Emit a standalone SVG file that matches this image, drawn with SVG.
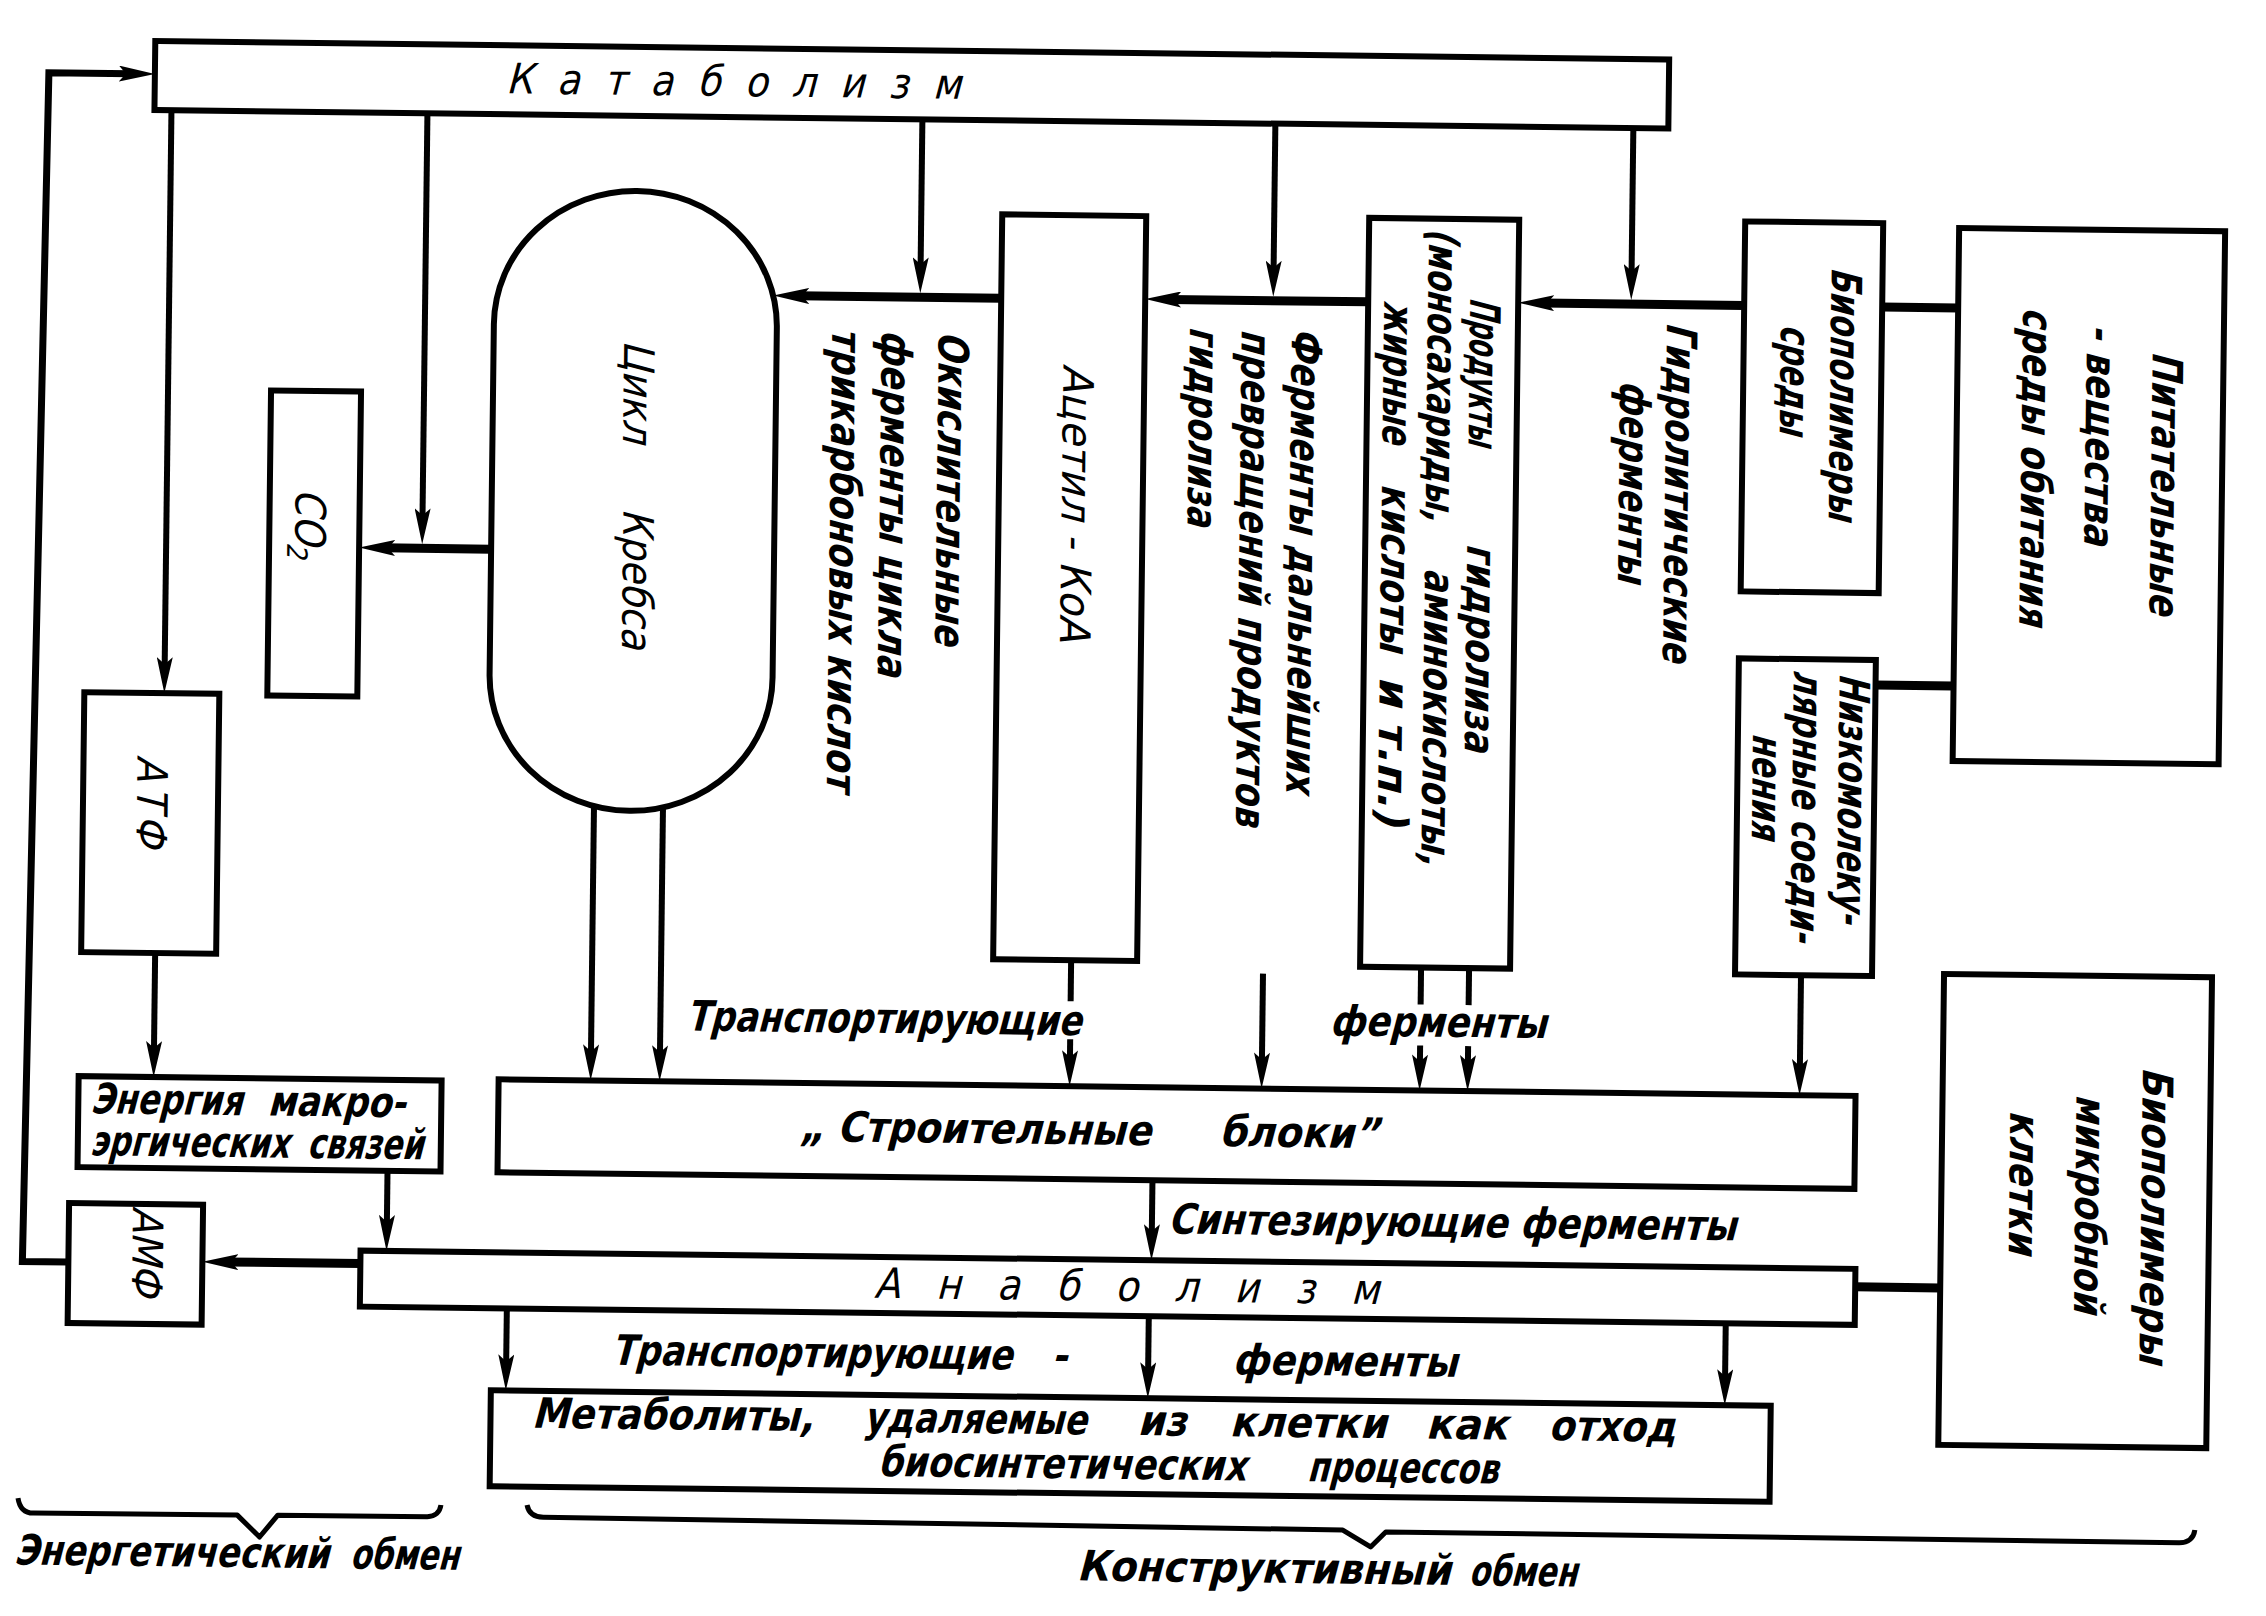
<svg xmlns="http://www.w3.org/2000/svg" width="2266" height="1616" viewBox="0 0 2266 1616">
<defs>
<style>
.box{fill:#fff;stroke:#000;stroke-width:6}
.ln{fill:none;stroke:#000;stroke-width:6}
.tk{stroke-width:9}
.br{fill:none;stroke:#000;stroke-width:5;stroke-linejoin:round}
.a{marker-end:url(#ah)}
text{font-family:"DejaVu Sans Condensed","DejaVu Sans",sans-serif;font-stretch:condensed;fill:#000;font-size:42px}
.b{font-weight:bold}
</style>
<marker id="ah" markerUnits="userSpaceOnUse" viewBox="0 0 36 16" markerWidth="36" markerHeight="16" refX="12" refY="8" orient="auto">
<path d="M36,8 L0,0 L7,8 L0,16 Z" fill="#000"/>
</marker>
</defs>
<rect width="2266" height="1616" fill="#fff"/>
<g transform="rotate(0.7 1133 808)">
<g id="connectors">
<polyline class="ln a" style="stroke-width:7" points="74,1275 28,1275 40,86 122,86"/>
<path class="ln a" d="M163,122 V681"/>
<path class="ln a" d="M419,122 V529"/>
<path class="ln tk a" d="M488,557 H380"/>
<path class="ln a" d="M914,122 V272"/>
<path class="ln tk a" d="M995,300 H791"/>
<path class="ln a" d="M1267,122 V271"/>
<path class="ln tk a" d="M1362,299 H1163"/>
<path class="ln a" d="M1625,122 V270"/>
<path class="ln tk a" d="M1738,298 H1536"/>
<path class="ln tk" d="M1952,298 H1876"/>
<path class="ln tk" d="M1952,676 H1874"/>
<path class="ln a" d="M157,965 V1065"/>
<path class="ln a" d="M392,1180 V1236"/>
<path class="ln tk a" d="M366,1273 H232"/>
<path class="ln a" d="M594,800 V1063"/>
<path class="ln a" d="M663,800 V1063"/>
<path class="ln" d="M1073,961 V1002"/>
<path class="ln a" d="M1073,1040 V1063"/>
<path class="ln a" d="M1265,972 V1063"/>
<path class="ln" d="M1423,964 V1001"/>
<path class="ln a" d="M1423,1042 V1063"/>
<path class="ln" d="M1471,964 V1001"/>
<path class="ln a" d="M1471,1042 V1063"/>
<path class="ln a" d="M1803,967 V1063"/>
<path class="ln a" d="M1157,1180 V1236"/>
<path class="ln a" d="M513,1316 V1374"/>
<path class="ln a" d="M1155,1316 V1374"/>
<path class="ln a" d="M1732,1316 V1374"/>
<path class="ln tk" d="M1861,1278 H1946"/>
</g>
<g id="catabolism">
<rect class="box" x="146" y="53" width="1514" height="69"/>
<text transform="translate(497,101) skewX(-14)" font-size="50" textLength="455" lengthAdjust="spacing">Катаболизм</text>
</g>
<g id="krebs">
<path class="box" d="M488,332 A141.5,135 0 0 1 771,332 L771,682 A141.5,135 0 0 1 488,682 Z"/>
<text transform="translate(629.5,349) rotate(90) skewX(-14)" y="11" textLength="103" lengthAdjust="spacingAndGlyphs">Цикл</text>
<text transform="translate(631,517) rotate(90) skewX(-14)" y="11" textLength="141" lengthAdjust="spacingAndGlyphs">Кребса</text>
</g>
<g id="co2">
<rect class="box" x="266" y="401" width="90" height="305"/>
<text transform="translate(306,502) rotate(90) skewX(-14)" y="14" font-size="40">CO<tspan font-size="28" dy="8">2</tspan></text>
</g>
<g id="atf">
<rect class="box" x="83" y="705" width="135" height="260"/>
<text transform="translate(152,771) rotate(90) skewX(-14)" y="15" font-size="44" textLength="92" lengthAdjust="spacing">АТФ</text>
</g>
<g id="energy">
<rect class="box" x="82" y="1089" width="363" height="91"/>
<text class="b" transform="translate(94,1126) skewX(-14)" font-size="40" textLength="152" lengthAdjust="spacingAndGlyphs">Энергия</text>
<text class="b" transform="translate(271,1126) skewX(-14)" font-size="40" textLength="138" lengthAdjust="spacingAndGlyphs">макро-</text>
<text class="b" transform="translate(94,1168) skewX(-14)" font-size="40" textLength="199" lengthAdjust="spacingAndGlyphs">эргических</text>
<text class="b" transform="translate(311,1168) skewX(-14)" font-size="40" textLength="116" lengthAdjust="spacingAndGlyphs">связей</text>
</g>
<g id="amf">
<rect class="box" x="74" y="1216" width="134" height="120"/>
<text transform="translate(153,1222) rotate(90) skewX(-14)" y="15" font-size="42" textLength="90" lengthAdjust="spacing">АМФ</text>
</g>
<g id="oxidative-enzymes">
<text class="b" transform="translate(944,336) rotate(90) skewX(-14)" y="11" textLength="314" lengthAdjust="spacingAndGlyphs">Окислительные</text>
<text class="b" transform="translate(887,335) rotate(90) skewX(-14)" y="11" textLength="347" lengthAdjust="spacingAndGlyphs">ферменты цикла</text>
<text class="b" transform="translate(837.5,334) rotate(90) skewX(-14)" y="11" textLength="463" lengthAdjust="spacingAndGlyphs">трикарбоновых кислот</text>
</g>
<g id="acetyl-coa">
<rect class="box" x="995" y="216" width="144" height="745"/>
<text transform="translate(1071,368) rotate(90) skewX(-14)" y="13" textLength="278" lengthAdjust="spacingAndGlyphs">Ацетил - КоА</text>
</g>
<g id="further-enzymes">
<text class="b" transform="translate(1297,328) rotate(90) skewX(-14)" y="11" textLength="465" lengthAdjust="spacingAndGlyphs">Ферменты дальнейших</text>
<text class="b" transform="translate(1247,330) rotate(90) skewX(-14)" y="11" textLength="497" lengthAdjust="spacingAndGlyphs">превращений продуктов</text>
<text class="b" transform="translate(1195,328) rotate(90) skewX(-14)" y="11" textLength="200" lengthAdjust="spacingAndGlyphs">гидролиза</text>
</g>
<g id="hydrolysis-products">
<rect class="box" x="1362" y="215" width="150" height="749"/>
<text class="b" transform="translate(1475,296) rotate(90) skewX(-14)" y="11" textLength="148" lengthAdjust="spacingAndGlyphs">Продукты</text>
<text class="b" transform="translate(1475,542) rotate(90) skewX(-14)" y="11" textLength="208" lengthAdjust="spacingAndGlyphs">гидролиза</text>
<text class="b" transform="translate(1433,227) rotate(90) skewX(-14)" y="11" textLength="293" lengthAdjust="spacingAndGlyphs">(моносахариды,</text>
<text class="b" transform="translate(1433,567) rotate(90) skewX(-14)" y="11" textLength="297" lengthAdjust="spacingAndGlyphs">аминокислоты,</text>
<text class="b" transform="translate(1389,300) rotate(90) skewX(-14)" y="11" textLength="143" lengthAdjust="spacingAndGlyphs">жирные</text>
<text class="b" transform="translate(1389,483) rotate(90) skewX(-14)" y="11" textLength="168" lengthAdjust="spacingAndGlyphs">кислоты</text>
<text class="b" transform="translate(1389,676) rotate(90) skewX(-14)" y="11" textLength="150" lengthAdjust="spacingAndGlyphs">и т.п.)</text>
</g>
<g id="hydrolytic-enzymes">
<text class="b" transform="translate(1672,318) rotate(90) skewX(-14)" y="11" textLength="340" lengthAdjust="spacingAndGlyphs">Гидролитические</text>
<text class="b" transform="translate(1626,377) rotate(90) skewX(-14)" y="11" textLength="202" lengthAdjust="spacingAndGlyphs">ферменты</text>
</g>
<g id="env-biopolymers">
<rect class="box" x="1738" y="214" width="138" height="370"/>
<text class="b" transform="translate(1836,261) rotate(90) skewX(-14)" y="11" textLength="253" lengthAdjust="spacingAndGlyphs">Биополимеры</text>
<text class="b" transform="translate(1786,319) rotate(90) skewX(-14)" y="11" textLength="110" lengthAdjust="spacingAndGlyphs">среды</text>
</g>
<g id="nutrients">
<rect class="box" x="1952" y="218" width="266" height="533"/>
<text class="b" transform="translate(2158,341) rotate(90) skewX(-14)" y="11" textLength="264" lengthAdjust="spacingAndGlyphs">Питательные</text>
<text class="b" transform="translate(2092,315) rotate(90) skewX(-14)" y="11" textLength="221" lengthAdjust="spacingAndGlyphs">- вещества</text>
<text class="b" transform="translate(2028,299) rotate(90) skewX(-14)" y="11" textLength="318" lengthAdjust="spacingAndGlyphs">среды обитания</text>
</g>
<g id="low-molecular">
<rect class="box" x="1737" y="651" width="137" height="316"/>
<text class="b" transform="translate(1849,667) rotate(90) skewX(-14)" y="11" textLength="250" lengthAdjust="spacingAndGlyphs">Низкомолеку-</text>
<text class="b" transform="translate(1803,664) rotate(90) skewX(-14)" y="11" textLength="272" lengthAdjust="spacingAndGlyphs">лярные соеди-</text>
<text class="b" transform="translate(1763,728) rotate(90) skewX(-14)" y="11" textLength="106" lengthAdjust="spacingAndGlyphs">нения</text>
</g>
<g id="cell-biopolymers">
<rect class="box" x="1946" y="964" width="268" height="471"/>
<text class="b" transform="translate(2157,1057) rotate(90) skewX(-14)" y="11" textLength="297" lengthAdjust="spacingAndGlyphs">Биополимеры</text>
<text class="b" transform="translate(2091,1085) rotate(90) skewX(-14)" y="11" textLength="219" lengthAdjust="spacingAndGlyphs">микробной</text>
<text class="b" transform="translate(2025,1102) rotate(90) skewX(-14)" y="11" textLength="144" lengthAdjust="spacingAndGlyphs">клетки</text>
</g>
<g id="building-blocks">
<rect class="box" x="502" y="1087" width="1357" height="93"/>
<text class="b" transform="translate(803,1145) skewX(-14)" textLength="352" lengthAdjust="spacingAndGlyphs">„ Строительные</text>
<text class="b" transform="translate(1223,1145) skewX(-14)" textLength="160" lengthAdjust="spacingAndGlyphs">блоки”</text>
</g>
<g id="labels">
<text class="b" transform="translate(689,1036) skewX(-14)" font-size="44" textLength="395" lengthAdjust="spacingAndGlyphs">Транспортирующие</text>
<text class="b" transform="translate(1332,1033) skewX(-14)" font-size="44" textLength="217" lengthAdjust="spacingAndGlyphs">ферменты</text>
<text class="b" transform="translate(1173,1233) skewX(-14)" font-size="44" textLength="568" lengthAdjust="spacingAndGlyphs">Синтезирующие ферменты</text>
<text class="b" transform="translate(618,1371) skewX(-14)" font-size="44" textLength="401" lengthAdjust="spacingAndGlyphs">Транспортирующие</text>
<text class="b" transform="translate(1058,1371) skewX(-14)" font-size="44">-</text>
<text class="b" transform="translate(1239,1373) skewX(-14)" font-size="44" textLength="225" lengthAdjust="spacingAndGlyphs">ферменты</text>
</g>
<g id="anabolism">
<rect class="box" x="366" y="1260" width="1495" height="56"/>
<text transform="translate(880,1301) skewX(-14)" font-size="47" textLength="505" lengthAdjust="spacing">Анаболизм</text>
</g>
<g id="metabolites">
<rect class="box" x="498" y="1398" width="1280" height="96"/>
<text class="b" transform="translate(539,1435) skewX(-14)" font-size="36" textLength="282" lengthAdjust="spacingAndGlyphs">Метаболиты,</text>
<text class="b" transform="translate(871,1435) skewX(-14)" font-size="36" textLength="223" lengthAdjust="spacingAndGlyphs">удаляемые</text>
<text class="b" transform="translate(1145,1435) skewX(-14)" font-size="36" textLength="49" lengthAdjust="spacingAndGlyphs">из</text>
<text class="b" transform="translate(1237,1435) skewX(-14)" font-size="36" textLength="157" lengthAdjust="spacingAndGlyphs">клетки</text>
<text class="b" transform="translate(1433,1435) skewX(-14)" font-size="36" textLength="82" lengthAdjust="spacingAndGlyphs">как</text>
<text class="b" transform="translate(1556,1435) skewX(-14)" font-size="36" textLength="127" lengthAdjust="spacingAndGlyphs">отход</text>
<text class="b" transform="translate(886,1479) skewX(-14)" font-size="36" textLength="368" lengthAdjust="spacingAndGlyphs">биосинтетических</text>
<text class="b" transform="translate(1315,1479) skewX(-14)" font-size="36" textLength="191" lengthAdjust="spacingAndGlyphs">процессов</text>
</g>
<g id="energy-exchange">
<path class="br" d="M26.5,1511.6 Q29,1526.5 42,1526.5 L246,1526 L268.5,1547.6 L286.5,1525.6 L436,1525.2 Q448,1524.5 449.5,1513.4"/>
<text class="b" transform="translate(23,1578) skewX(-14)" textLength="315" lengthAdjust="spacingAndGlyphs">Энергетический</text>
<text class="b" transform="translate(359,1578) skewX(-14)" textLength="109" lengthAdjust="spacingAndGlyphs">обмен</text>
</g>
<g id="constructive-exchange">
<path class="br" d="M535.6,1512.4 Q538,1524.4 552,1524.4 L1351.6,1527.4 L1379.6,1544 L1394.6,1528.8 L2188,1530 Q2202,1529.5 2203.6,1517"/>
<text class="b" transform="translate(1086,1581) skewX(-14)" textLength="374" lengthAdjust="spacingAndGlyphs">Конструктивный</text>
<text class="b" transform="translate(1478,1581) skewX(-14)" textLength="108" lengthAdjust="spacingAndGlyphs">обмен</text>
</g>
</g>
</svg>
